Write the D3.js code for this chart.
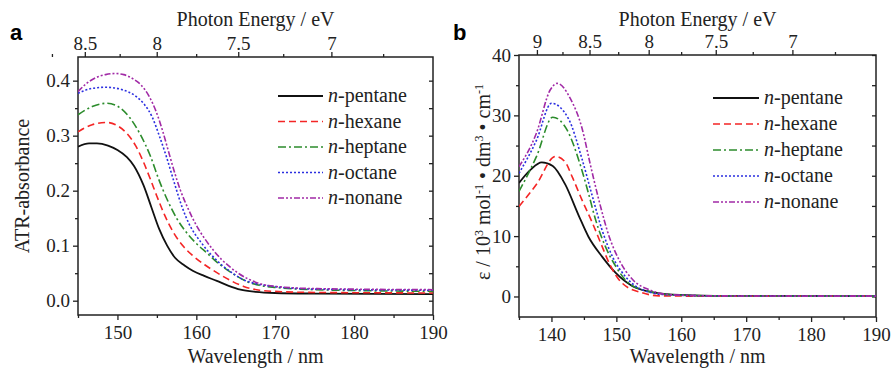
<!DOCTYPE html>
<html>
<head>
<meta charset="utf-8">
<script src="https://cdn.jsdelivr.net/npm/d3@7"></script>
<style>
  body { margin: 0; background: #fff; }
  svg { display: block; }
</style>
</head>
<body>
<div id="chart"></div>
<script>
// hc in eV*nm, for the photon energy axis
const HC = 1239.84;
const SERIF = "Liberation Serif";

const names = ["pentane", "hexane", "heptane", "octane", "nonane"];

// panel a: ATR absorbance vs wavelength (nm)
const aPentane = [[145, 0.280], [146.4, 0.286], [147.4, 0.286], [148.8, 0.282], [150, 0.274], [151.2, 0.261], [152.1, 0.245],
  [153.3, 0.210], [154.3, 0.170], [155.3, 0.130], [156.3, 0.100], [157.3, 0.078], [158.5, 0.064], [159.6, 0.054],
  [161, 0.045], [162.6, 0.036], [164.1, 0.027], [165.6, 0.020], [167.5, 0.016], [170, 0.014], [175, 0.013], [190, 0.012]];
const aHexane = [[145, 0.307], [146.8, 0.320], [148.7, 0.324], [150, 0.318], [151.2, 0.304], [152.3, 0.282], [153.3, 0.252],
  [154.2, 0.220], [155, 0.190], [156, 0.155], [157.1, 0.124], [158.4, 0.098], [159.7, 0.080], [161.2, 0.064],
  [162.6, 0.051], [164.3, 0.037], [166, 0.026], [168, 0.019], [169.8, 0.017], [175, 0.015], [190, 0.014]];
const aHeptane = [[145, 0.338], [146.8, 0.353], [148.7, 0.359], [150.2, 0.352], [151.6, 0.332], [152.9, 0.302], [154.2, 0.262],
  [155.2, 0.222], [156.3, 0.184], [157.5, 0.150], [158.8, 0.123], [160, 0.104], [161.4, 0.086], [162.6, 0.070],
  [163.9, 0.056], [165.2, 0.044], [166.4, 0.035], [168, 0.028], [170.2, 0.024], [175, 0.020], [190, 0.017]];
const aOctane = [[145, 0.377], [146.8, 0.386], [148.5, 0.388], [150.5, 0.384], [152.3, 0.372], [153.4, 0.357], [154.4, 0.334],
  [155.3, 0.300], [156.2, 0.262], [157.3, 0.210], [158.2, 0.170], [159, 0.142], [160.7, 0.104], [162.4, 0.076],
  [164.5, 0.051], [166, 0.038], [167.5, 0.031], [169.2, 0.027], [175, 0.021], [190, 0.019]];
const aNonane = [[145, 0.380], [146, 0.394], [147.2, 0.405], [148.5, 0.411], [149.7, 0.413], [150.8, 0.411], [151.9, 0.404],
  [153, 0.392], [154, 0.372], [154.9, 0.344], [155.7, 0.310], [156.4, 0.275], [157.1, 0.240], [158, 0.200], [159, 0.166],
  [160, 0.137], [161.1, 0.112], [162.2, 0.091], [163.2, 0.075], [164.3, 0.061], [165.3, 0.050], [166.8, 0.038],
  [168.3, 0.030], [170, 0.026], [175, 0.022], [190, 0.020]];

// panel b: molar absorption coefficient (10^3 mol-1 dm3 cm-1) vs wavelength (nm)
const bPentane = [[135, 18.8], [136.8, 21.0], [138.5, 22.2], [140.2, 21.6], [142.1, 18.6], [144.2, 13.4], [145.7, 9.9],
  [147.8, 6.6], [149.9, 3.9], [152.5, 1.7], [155.1, 0.8], [158.7, 0.3], [165, 0.1], [190, 0.05]];
const bHexane = [[135, 14.9], [137.7, 18.6], [140.6, 23.2], [142.1, 22.3], [143.2, 19.8], [144.7, 16.0], [146.3, 12.2],
  [147.8, 8.3], [148.9, 5.5], [150.9, 2.2], [154, 0.6], [156.6, 0.1], [165, 0.05], [190, 0.05]];
const bHeptane = [[135, 17.4], [137.7, 23.2], [140.2, 29.7], [142.4, 27.6], [144.5, 21.6], [145.7, 17.1], [146.8, 12.7],
  [148.3, 8.3], [149.9, 5.0], [151.9, 2.2], [155.1, 0.8], [158.2, 0.3], [165, 0.1], [190, 0.05]];
const bOctane = [[135, 20.4], [137.7, 25.9], [140, 32.0], [142.6, 29.5], [144.7, 22.8], [146.3, 16.6], [147.8, 11.0],
  [149.4, 6.6], [151.4, 3.3], [154, 1.1], [157.6, 0.3], [165, 0.1], [190, 0.05]];
const bNonane = [[135, 21.5], [137.7, 27.1], [139.8, 34.2], [140.9, 35.3], [142.9, 32.8], [144.7, 27.9], [146, 21.8],
  [147.3, 16.0], [148.9, 9.9], [150.4, 6.1], [152.5, 2.8], [155.1, 1.1], [158.2, 0.3], [165, 0.1], [190, 0.05]];

// tick values
const aWaveTicks = [150, 160, 170, 180, 190];
const aWaveMinor = [145, 155, 165, 175, 185];
const aYTicks = [0, 0.1, 0.2, 0.3, 0.4];
const aYMinor = [0.05, 0.15, 0.25, 0.35];
const aEnergyTicks = [8.5, 8, 7.5, 7];
const aEnergyMinor = [8.75, 8.25, 7.75, 7.25, 6.75];

const bWaveTicks = [140, 150, 160, 170, 180, 190];
const bWaveMinor = [135, 145, 155, 165, 175, 185];
const bYTicks = [0, 10, 20, 30, 40];
const bYMinor = [5, 15, 25, 35];
const bEnergyTicks = [9, 8.5, 8, 7.5, 7];
const bEnergyMinor = [8.75, 8.25, 7.75, 7.25, 6.75];

const styles = [
  {color: "#111", dash: null, width: 1.8},
  {color: "#f42525", dash: "7,4", width: 1.6},
  {color: "#2c8c2c", dash: "8,3,2,3", width: 1.6},
  {color: "#2b2fe0", dash: "2,2", width: 1.6},
  {color: "#a12aa6", dash: "6,2,2,2,2,2", width: 1.6}
];

const svg = d3.select("#chart").append("svg").attr("width", 894).attr("height", 370)
  .attr("font-family", SERIF);

// axis helper: draws the axis, drops the domain line and forces the serif font
function styleAxis(a) {
  a.attr("font-family", SERIF).attr("font-size", 19);
  a.select(".domain").remove();
  a.selectAll("line").attr("stroke", "#222").attr("stroke-width", 1.3);
  a.selectAll("text").attr("fill", "#222");
}

function panel(cfg) {
  let x = d3.scaleLinear().domain(cfg.xDomain).range([cfg.left, cfg.right]),
      y = d3.scaleLinear().domain(cfg.yDomain).range([cfg.bottom, cfg.top]),
      g = svg.append("g");

  // frame
  g.append("rect")
    .attr("x", cfg.left).attr("y", cfg.top)
    .attr("width", cfg.right - cfg.left).attr("height", cfg.bottom - cfg.top)
    .attr("fill", "none").attr("stroke", "#222").attr("stroke-width", 1.5);

  // bottom axis
  g.append("g").attr("transform", `translate(0,${cfg.bottom})`)
    .call(d3.axisBottom(x).tickValues(cfg.xTicks).tickSize(5).tickPadding(6).tickFormat(d3.format("d")))
    .call(styleAxis);
  g.append("g").attr("transform", `translate(0,${cfg.bottom})`)
    .call(d3.axisBottom(x).tickValues(cfg.xMinor).tickSize(3).tickFormat(""))
    .call(styleAxis);

  // left axis
  g.append("g").attr("transform", `translate(${cfg.left},0)`)
    .call(d3.axisLeft(y).tickValues(cfg.yTicks).tickSize(5).tickPadding(3).tickFormat(cfg.yFormat))
    .call(styleAxis);
  g.append("g").attr("transform", `translate(${cfg.left},0)`)
    .call(d3.axisLeft(y).tickValues(cfg.yMinor).tickSize(3).tickFormat(""))
    .call(styleAxis);

  // right side mirrored ticks, pointing inward
  g.append("g").attr("transform", `translate(${cfg.right},0)`)
    .call(d3.axisRight(y).tickValues(cfg.yTicks.concat(cfg.yMinor)).tickSize(-4).tickFormat(""))
    .call(styleAxis);

  // top axis: photon energy, placed at the wavelength hc/E
  let eMap = new Map(cfg.eTicks.map(e => [HC / e, e]));
  g.append("g").attr("transform", `translate(0,${cfg.top})`)
    .call(d3.axisTop(x).tickValues(cfg.eTicks.map(e => HC / e)).tickSize(5).tickPadding(2)
      .tickFormat(w => eMap.get(w)))
    .call(styleAxis);
  g.append("g").attr("transform", `translate(0,${cfg.top})`)
    .call(d3.axisTop(x).tickValues(cfg.eMinor.map(e => HC / e).filter(w => w <= cfg.xDomain[1])).tickSize(3).tickFormat(""))
    .call(styleAxis);

  // curves
  let line = d3.line().x(d => x(d[0])).y(d => y(d[1])).curve(d3.curveMonotoneX);
  let clipId = "clip" + cfg.id;
  g.append("clipPath").attr("id", clipId).append("rect")
    .attr("x", cfg.left).attr("y", cfg.top)
    .attr("width", cfg.right - cfg.left).attr("height", cfg.bottom - cfg.top);
  g.append("g").attr("clip-path", `url(#${clipId})`)
    .selectAll("path").data(cfg.series).join("path")
    .attr("d", d => line(d))
    .attr("fill", "none")
    .attr("stroke", (d, i) => styles[i].color)
    .attr("stroke-width", (d, i) => styles[i].width)
    .attr("stroke-dasharray", (d, i) => styles[i].dash);

  // legend
  let leg = g.append("g").selectAll("g").data(names).join("g")
    .attr("transform", (d, i) => `translate(${cfg.legX},${cfg.legY + i * cfg.legStep})`);
  leg.append("line")
    .attr("x1", 0).attr("x2", cfg.legLen).attr("y1", 0).attr("y2", 0)
    .attr("stroke", (d, i) => styles[i].color)
    .attr("stroke-width", (d, i) => styles[i].width)
    .attr("stroke-dasharray", (d, i) => styles[i].dash);
  let lt = leg.append("text").attr("x", cfg.legLen + 5).attr("y", 6)
    .attr("font-family", SERIF).attr("font-size", 20).attr("fill", "#222");
  lt.append("tspan").attr("font-style", "italic").text("n");
  lt.append("tspan").text(d => "-" + d);

  // titles
  g.append("text").attr("text-anchor", "middle").attr("font-size", 20).attr("fill", "#222")
    .attr("x", (cfg.left + cfg.right) / 2).attr("y", 363).text("Wavelength / nm");
  g.append("text").attr("text-anchor", "middle").attr("font-size", 20).attr("fill", "#222")
    .attr("x", (cfg.left + cfg.right) / 2).attr("y", 26).text("Photon Energy / eV");
  g.append("text").attr("x", cfg.panelX).attr("y", 40)
    .attr("font-family", "Liberation Sans").attr("font-size", 22).attr("font-weight", "bold")
    .text(cfg.id);

  return g;
}

panel({
  id: "a", left: 78, right: 433, top: 57, bottom: 315,
  xDomain: [145, 190], yDomain: [-0.026, 0.443],
  xTicks: aWaveTicks, xMinor: aWaveMinor, yTicks: aYTicks, yMinor: aYMinor,
  eTicks: aEnergyTicks, eMinor: aEnergyMinor, yFormat: d3.format(".1f"),
  series: [aPentane, aHexane, aHeptane, aOctane, aNonane],
  legX: 278, legY: 96, legStep: 25.5, legLen: 45, panelX: 10
});

panel({
  id: "b", left: 519, right: 876, top: 55, bottom: 317,
  xDomain: [135, 190], yDomain: [-3.4, 40],
  xTicks: bWaveTicks, xMinor: bWaveMinor, yTicks: bYTicks, yMinor: bYMinor,
  eTicks: bEnergyTicks, eMinor: bEnergyMinor, yFormat: d3.format("d"),
  series: [bPentane, bHexane, bHeptane, bOctane, bNonane],
  legX: 713, legY: 98, legStep: 26, legLen: 46, panelX: 453
});

// y axis titles
svg.append("text").attr("text-anchor", "middle").attr("font-size", 20).attr("fill", "#222")
  .attr("transform", "translate(29,186) rotate(-90)").text("ATR-absorbance");

let yb = svg.append("text").attr("text-anchor", "middle").attr("font-size", 20).attr("fill", "#222")
  .attr("transform", "translate(490,182) rotate(-90)");
yb.append("tspan").text("ε / 10");
yb.append("tspan").attr("dy", -7).attr("font-size", 12).text("3");
yb.append("tspan").attr("dy", 7).text(" mol");
yb.append("tspan").attr("dy", -7).attr("font-size", 12).text("-1");
yb.append("tspan").attr("dy", 7).text(" • dm");
yb.append("tspan").attr("dy", -7).attr("font-size", 12).text("3");
yb.append("tspan").attr("dy", 7).text(" • cm");
yb.append("tspan").attr("dy", -7).attr("font-size", 12).text("-1");
</script>
</body>
</html>
